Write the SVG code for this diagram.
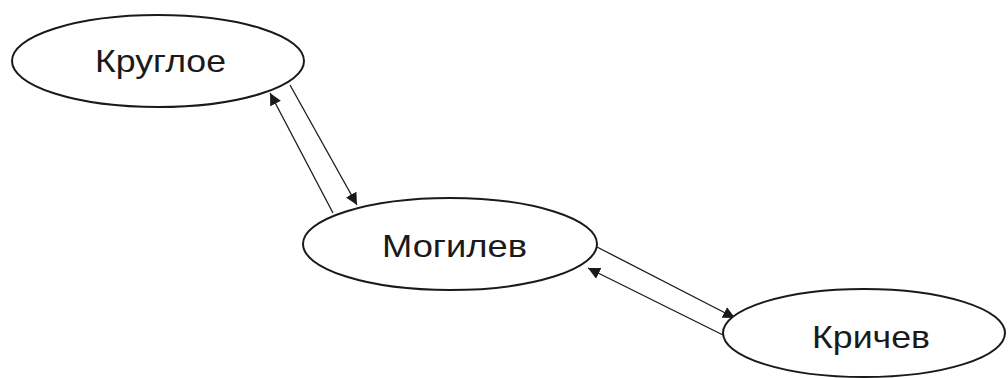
<svg xmlns="http://www.w3.org/2000/svg" width="1008" height="378" viewBox="0 0 1008 378">
<style>
.node ellipse{fill:#fff;stroke:#1a1a1a;stroke-width:2}
.node text{font-family:"Liberation Sans","DejaVu Sans",sans-serif;font-size:32px;fill:#1a1a1a;text-anchor:middle}
.edge{stroke:#1a1a1a;stroke-width:1.3;fill:none;marker-end:url(#arr)}
</style>
<defs>
<marker id="arr" viewBox="0 0 10 10" refX="10" refY="5" markerWidth="12" markerHeight="12" markerUnits="userSpaceOnUse" orient="auto">
<path d="M0,0 L10,5 L0,10 z" fill="#1a1a1a"/>
</marker>
</defs>
<rect width="1008" height="378" fill="#fff"/>
<g id="connectors">
<line class="edge" x1="290" y1="85" x2="357" y2="205"/>
<line class="edge" x1="333" y1="213" x2="270" y2="93"/>
<line class="edge" x1="597" y1="247" x2="735" y2="318"/>
<line class="edge" x1="723" y1="335" x2="588" y2="268"/>
</g>
<g id="node-kruglovoe" class="node">
<ellipse cx="158" cy="61" rx="146" ry="46"/>
<text x="160.5" y="72" textLength="131" lengthAdjust="spacingAndGlyphs">Круглое</text>
</g>
<g id="node-mogilev" class="node">
<ellipse cx="450" cy="244" rx="147" ry="46"/>
<text x="454.5" y="257" textLength="145" lengthAdjust="spacingAndGlyphs">Могилев</text>
</g>
<g id="node-krichev" class="node">
<ellipse cx="864" cy="333" rx="141" ry="44"/>
<text x="871" y="348" textLength="118" lengthAdjust="spacingAndGlyphs">Кричев</text>
</g>
</svg>
